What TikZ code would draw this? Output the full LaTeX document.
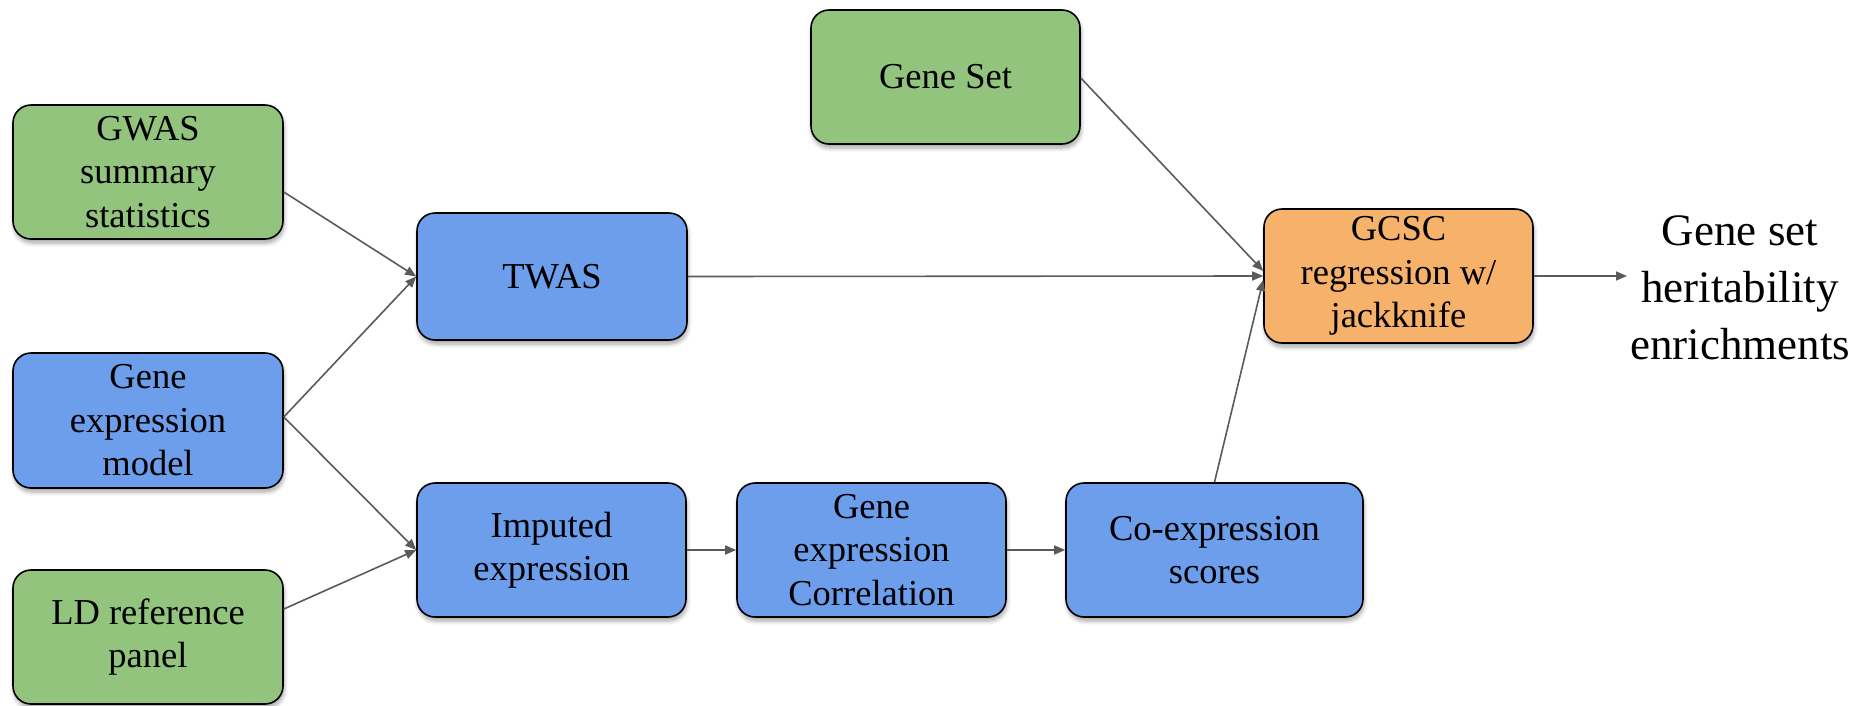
\documentclass[tikz,border=0pt]{standalone}
\usepackage{fontspec}
\setmainfont{Liberation Serif}
\usetikzlibrary{arrows.meta,shadows.blur}

\definecolor{boxgreen}{RGB}{147,196,125}
\definecolor{boxblue}{RGB}{109,158,235}
\definecolor{boxorange}{RGB}{246,178,107}
\definecolor{linkgray}{RGB}{90,90,90}

\tikzset{
  box/.style={draw=black, line width=1.6pt, rounded corners=18pt,
    inner sep=0pt, align=center, text=black,
    minimum width=269pt, minimum height=134pt,
    font=\fontsize{36.5}{43.5}\selectfont,
    blur shadow={shadow xshift=1pt, shadow yshift=-4pt,
      shadow blur radius=4pt, shadow blur steps=6, shadow opacity=35}},
  greenbox/.style={box, fill=boxgreen},
  bluebox/.style={box, fill=boxblue},
  orangebox/.style={box, fill=boxorange},
  link/.style={draw=linkgray, line width=1.6pt,
    -{Triangle[length=11pt,width=9pt]}},
}

\begin{document}
\begin{tikzpicture}[x=1pt,y=1pt]
\useasboundingbox (0,0) rectangle (1861,-705);

% inputs on the left
\node[greenbox, minimum width=270pt] (gwas) at (148,-172) {GWAS\\summary\\statistics};
\node[bluebox, minimum width=270pt, minimum height=135pt] (gem) at (148,-420.5) {Gene\\expression\\model};
\node[greenbox, minimum width=270pt] (ld) at (148,-637) {LD reference\\panel};

% middle stages
\node[bluebox, minimum width=270pt, minimum height=127pt] (twas) at (552,-276.5) {TWAS};
\node[bluebox] (imp) at (551.5,-550) {Imputed\\expression};
\node[bluebox] (gcor) at (871.5,-550) {Gene\\expression\\Correlation};
\node[bluebox, minimum width=297pt] (coexp) at (1214.5,-550) {Co-expression\\scores};

% gene set and regression
\node[greenbox] (geneset) at (945.5,-77) {Gene Set};
\node[orangebox] (gcsc) at (1398.5,-276) {GCSC\\regression w/\\jackknife};

% result
\node[align=center, inner sep=0pt, font=\fontsize{45}{57}\selectfont] (out) at (1740,-288)
  {Gene set\\heritability\\enrichments};
\coordinate (outtip) at (1627,-276);

% connectors
\draw[link] ([yshift=-20pt]gwas.east) -- (twas.west);
\draw[link] ([yshift=3.5pt]gem.east) -- (twas.west);
\draw[link] ([yshift=3.5pt]gem.east) -- (imp.west);
\draw[link] ([yshift=28pt]ld.east) -- (imp.west);
\draw[link] (twas.east) -- (gcsc.west);
\draw[link] ([yshift=-1pt]geneset.east) -- ([yshift=5pt]gcsc.west);
\draw[link] (coexp.north) -- ([yshift=-4pt]gcsc.west);
\draw[link] (imp.east) -- (gcor.west);
\draw[link] (gcor.east) -- (coexp.west);
\draw[link] (gcsc.east) -- (outtip);
\end{tikzpicture}
\end{document}
